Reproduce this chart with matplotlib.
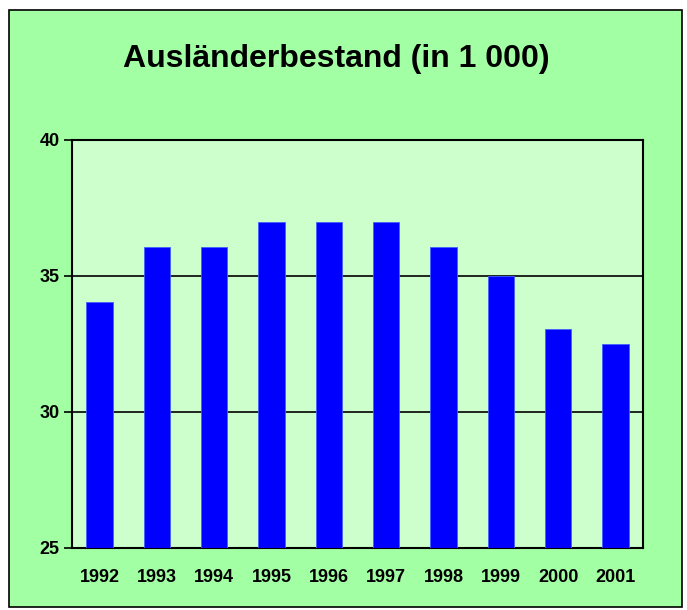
import matplotlib
matplotlib.use("Agg")
import matplotlib.pyplot as plt
from matplotlib.patches import Rectangle

# data
years = ["1992", "1993", "1994", "1995", "1996", "1997", "1998", "1999", "2000", "2001"]
bestand = [34.05, 36.05, 36.05, 37.0, 37.0, 37.0, 36.05, 35.0, 33.05, 32.5]
y_ticks = [25, 30, 35, 40]

plt.rcParams["font.family"] = ["Liberation Sans", "DejaVu Sans"]
plt.rcParams["font.weight"] = "bold"

fig = plt.figure(figsize=(6.87, 6.10), dpi=100, facecolor="white")

# outer green panel with black border (behind the axes)
fig.patches.append(Rectangle((9 / 687, 1 - 607 / 610), 673 / 687, 597 / 610,
                             transform=fig.transFigure, facecolor="#A3FFA3",
                             edgecolor="black", linewidth=1.2, zorder=-5))

ax = fig.add_axes([72 / 687, 1 - 548 / 610, 571 / 687, 408 / 610])
ax.set_zorder(2)
ax.set_facecolor("#CCFFCC")

x = range(len(years))
ax.bar(x, [v - 25 for v in bestand], bottom=25, width=0.46,
       color="#0000FF", edgecolor="#4060FF", linewidth=0.6, zorder=3)

ax.set_xlim(-0.48, len(years) - 0.52)
ax.set_ylim(25, 40)
ax.set_yticks(y_ticks)
ax.set_xticks(list(x))
ax.set_xticklabels(years)
ax.tick_params(axis="y", direction="out", length=6, width=1.2, labelsize=13, pad=3)
ax.tick_params(axis="x", length=0, labelsize=13, pad=15)
for lbl in ax.get_xticklabels() + ax.get_yticklabels():
    lbl.set_fontweight("bold")

ax.grid(axis="y", color="black", linewidth=1.2, zorder=1)
ax.set_axisbelow(True)
for s in ax.spines.values():
    s.set_linewidth(1.5)
    s.set_color("black")

fig.text(0.49, 1 - 59 / 610, "Ausländerbestand (in 1 000)", ha="center", va="center",
         fontsize=23, fontweight="bold")

fig.savefig("out.png", dpi=100)
